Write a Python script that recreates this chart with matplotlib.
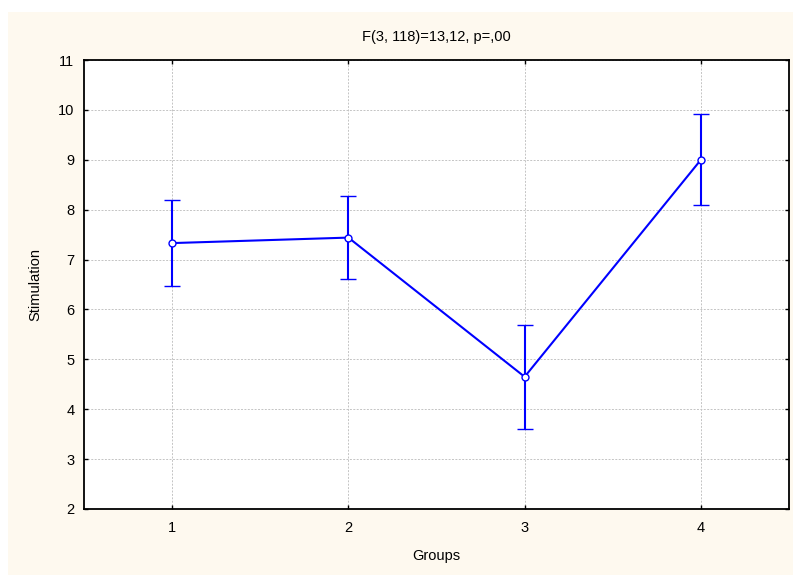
import matplotlib
matplotlib.use("Agg")
import matplotlib.pyplot as plt
from matplotlib.patches import Rectangle

plt.rcParams["font.family"] = ["Liberation Sans", "DejaVu Sans"]

groups = [1, 2, 3, 4]
means = [7.33, 7.44, 4.65, 9.0]
errors = [0.86, 0.83, 1.04, 0.91]
title = "F(3, 118)=13,12, p=,00"

W, H = 793, 575
fig = plt.figure(figsize=(W / 100, H / 100), dpi=100, facecolor="white")
# cream panel behind the chart
fig.patches.append(Rectangle((8 / W, 0), 1, 1 - 12 / H, transform=fig.transFigure,
                             facecolor="#FEF9EF", edgecolor="none", zorder=-1))

ax = fig.add_axes([84 / W, 66 / H, (789 - 84) / W, (509 - 60) / H])
ax.set_facecolor("white")

ax.errorbar(groups, means, yerr=errors, color="#0000FF", lw=1.5, capsize=6,
            capthick=1.5, marker="o", markersize=5, markerfacecolor="white",
            markeredgecolor="#0000FF", markeredgewidth=1.0, zorder=3)

ax.set_xlim(0.5, 4.5)
ax.set_ylim(2, 11)
ax.set_xticks(groups)
ax.set_yticks(range(2, 12))
ax.grid(True, color="#C4C4C4", linestyle=(0, (2, 1.5)), linewidth=0.7)
ax.tick_params(direction="in", length=3, width=1, top=True, right=True,
               labelsize=10.5, pad=7)
ax.tick_params(axis="x", pad=9)
for s in ax.spines.values():
    s.set_linewidth(1.3)

ax.set_title(title, fontsize=10.5, pad=14)
ax.set_xlabel("Groups", fontsize=10.5, labelpad=10)
ax.set_ylabel("Stimulation", fontsize=10.5, labelpad=11)

fig.savefig("out.png", dpi=100, facecolor=fig.get_facecolor())
